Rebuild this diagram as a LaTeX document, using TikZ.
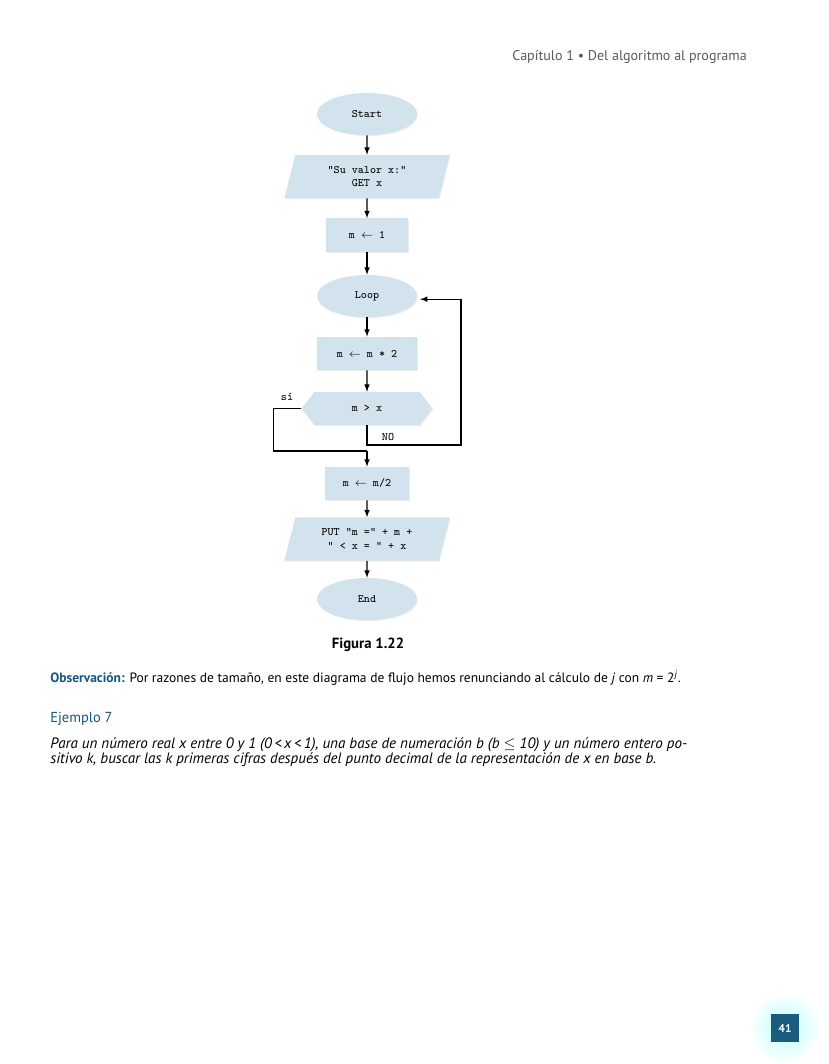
\documentclass[tikz,border=0pt]{standalone}
\usepackage{fontspec}
\setmainfont{PT Sans}
\usetikzlibrary{shapes.geometric, shapes.symbols, shadows, arrows.meta}
\definecolor{boxblue}{RGB}{211,227,237}
\definecolor{headblue}{RGB}{22,86,128}
\definecolor{pagegray}{RGB}{90,90,90}
\definecolor{tabteal}{RGB}{25,92,125}
\newcommand{\assign}{$\leftarrow$}
\tikzset{
  flow/.style={fill=boxblue, draw=none, align=center, inner sep=1pt,
    font=\ttfamily\fontsize{8.1}{9.4}\selectfont,
    drop shadow={shadow xshift=0.6pt, shadow yshift=-0.8pt, opacity=0.15}},
  term/.style={flow, ellipse, minimum width=2.5cm, minimum height=1.05cm},
  io/.style={flow, trapezium, trapezium left angle=65, trapezium right angle=115,
    trapezium stretches body, minimum width=4.125cm, minimum height=1.075cm},
  proc/.style={flow, rectangle, minimum height=0.83cm},
  test/.style={flow, signal, signal to=west and east, signal pointer angle=104,
    minimum width=3.275cm, minimum height=0.825cm},
  arr/.style={-latex, line width=0.8pt},
  wire/.style={line width=0.8pt},
  codetext/.style={font=\ttfamily\fontsize{8.1}{9.4}\selectfont, inner sep=0pt},
}
\begin{document}
\begin{tikzpicture}[x=0.025cm, y=-0.025cm]
    \useasboundingbox (0,0) rectangle (828,1064);
    % Running head
    \node[anchor=east, inner sep=0pt, text=pagegray, font=\fontsize{10}{12}\selectfont] (head) at (747,57)
        {Capítulo 1 • Del algoritmo al programa};
    % Flowchart
    \node[term] (start) at (367,114) {Start};
    \node[io] (input) at (367,176.5) {“Su valor x:”\\GET x};
    \node[proc, minimum width=2.05cm] (init) at (367,235) {m \assign{} 1};
    \node[term] (loop) at (367,296) {Loop};
    \node[proc, minimum width=2.5cm] (double) at (367,353.5) {m \assign{} m * 2};
    \node[test] (cmp) at (367,408.5) {m > x};
    \node[proc, minimum width=2.1cm] (halve) at (367,483.5) {m \assign{} m/2};
    \node[io] (output) at (367,539) {PUT “m =” + m +\\“ < x = “ + x};
    \node[term] (stop) at (367,599) {End};
    % Branch points
    \coordinate (join) at (367,451);
    \coordinate (back) at (461,445);
    % Connectors
    \draw[arr] (start) -- (input);
    \draw[arr] (input) -- (init);
    \draw[arr] (init) -- (loop);
    \draw[arr] (loop) -- (double);
    \draw[arr] (double) -- (cmp);
    \draw[wire] (cmp.west) -- ++(-28,0) |- (join);
    \draw[arr] (join) -- (halve);
    \draw[arr, shorten >=2pt] (cmp.south) |- (back) |- ([yshift=-0.08cm]loop.east);
    \draw[arr] (halve) -- (output);
    \draw[arr] (output) -- (stop);
    % Branch labels
    \node[codetext] (yes) at (287,397) {sí};
    \node[codetext] (no) at (388,437) {NO};
    % Caption and text
    \node[font=\bfseries\fontsize{10.5}{12}\selectfont] (caption) at (368,645) {Figura 1.22};
    \node[anchor=west, inner sep=0pt, font=\fontsize{9.6}{11}\selectfont] (note) at (50,678)
        {\textcolor{headblue}{\textbf{Observación:}} Por razones de tamaño, en este diagrama de flujo hemos renunciando al cálculo de \textit{j} con \textit{m} = 2\textsuperscript{\textit{j}}.};
    \node[anchor=west, inner sep=0pt, text=headblue, font=\fontsize{10.3}{12}\selectfont] (example) at (50,719) {Ejemplo 7};
    \node[anchor=north west, align=left, inner sep=0pt, font=\itshape\fontsize{10.7}{10.8}\selectfont] (task) at (50,737)
        {Para un número real x entre 0 y 1 (0\,<\,x\,<\,1), una base de numeración b (b $\le$ 10) y un número entero po-\\
         sitivo k, buscar las k primeras cifras después del punto decimal de la representación de x en base b.};
    % Page number
    \shade[inner color=cyan!28, outer color=white] (785,1028) circle (0.9cm);
    \node[fill=tabteal, text=white, minimum size=0.7cm, inner sep=0pt,
        font=\bfseries\fontsize{8}{9}\selectfont] (page) at (785,1028) {41};
\end{tikzpicture}
\end{document}
